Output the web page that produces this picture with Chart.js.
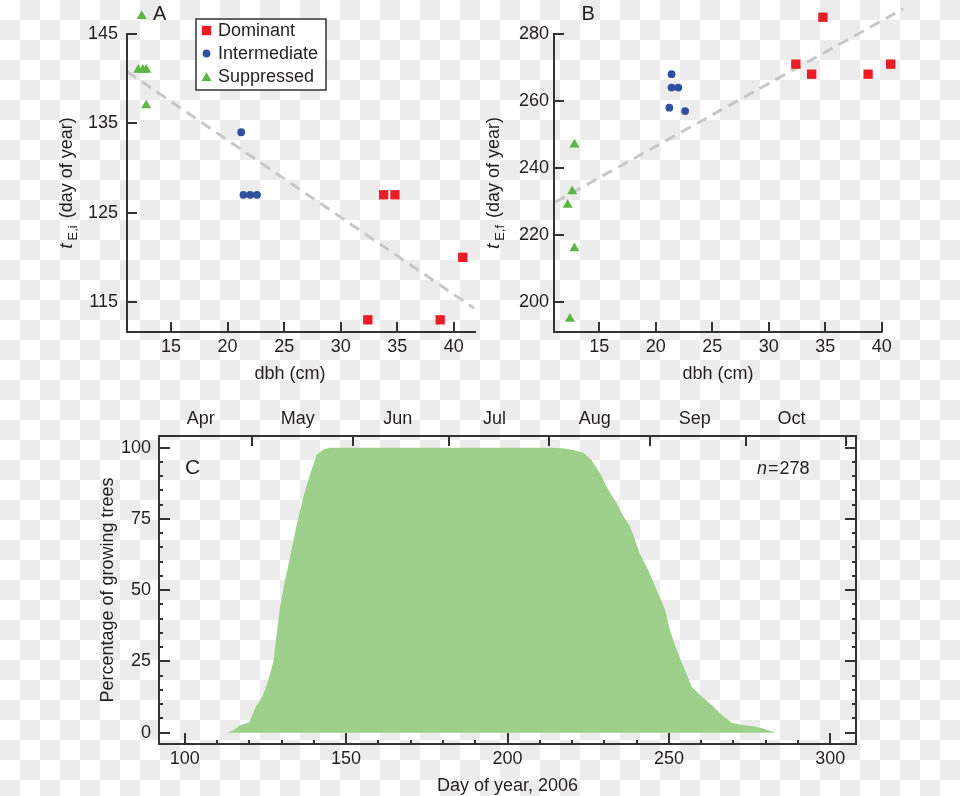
<!DOCTYPE html>
<html>
<head>
<meta charset="utf-8">
<script src="https://cdn.jsdelivr.net/npm/chart.js@4.4.1/dist/chart.umd.min.js"></script>
<style>
html, body { margin: 0; padding: 0; }
body {
    width: 960px; height: 796px; position: relative; overflow: hidden;
    background-color: #fff;
    background-image: conic-gradient(#ececec 25%, transparent 0 50%, #ececec 0 75%, transparent 0);
    background-size: 40px 40px;
}
canvas { position: absolute; }
</style>
</head>
<body>
<canvas id="panelA" width="480" height="390" style="left:0;top:0"></canvas>
<canvas id="panelB" width="480" height="390" style="left:480px;top:0"></canvas>
<canvas id="panelC" width="960" height="406" style="left:0;top:390px"></canvas>
<script>
// dbh (cm) of the trees, per crown class
const domX = [32.4, 33.8, 34.8, 38.8, 40.8];
const intX_A = [21.2, 21.4, 22.0, 22.6];
const supX_A = [12.4, 12.1, 12.5, 12.8, 12.8];
const intX_B = [21.4, 21.4, 22.0, 21.2, 22.6];
const supX_B = [12.8, 12.6, 12.2, 12.8, 12.4];

// panel A: start of growth (day of year)
const domA = [113, 127, 127, 113, 120];
const intA = [134, 127, 127, 127];
const supA = [147, 141, 141, 141, 137];
const fitAX = [11.1, 41.8];
const fitAY = [140.8, 114.3];

// panel B: end of growth (day of year)
const domB = [271, 268, 285, 268, 271];
const intB = [268, 264, 264, 258, 257];
const supB = [247, 233, 229, 216, 195];
const fitBX = [11.1, 41.9];
const fitBY = [229.8, 287.5];

// panel C: percentage of growing trees per day
const days = [113, 115, 117, 120, 122, 124, 125.5, 127.5, 128, 129.5, 131, 132.6, 134.7, 136.7, 138.8, 140.9, 143, 145,
    213, 217, 220.4, 223.5, 226, 228.7, 230.7, 233.8, 236, 238, 239.5, 241, 243.6, 246.2, 248.8, 250.3, 252.4,
    254.5, 257.1, 260.2, 263.3, 266.4, 269.5, 272.6, 276, 279.2, 283];
const growing = [0, 0.8, 2.5, 3.7, 9, 12.5, 17, 25, 30, 44, 53, 61.5, 73, 82.5, 90.5, 97.5, 99.4, 100,
    100, 99.8, 99.2, 98.2, 95.7, 91, 86.3, 80.5, 75.8, 72.3, 67.6, 62.9, 57.1, 50.1, 43.1, 36, 29,
    23.2, 16.1, 12.6, 9.7, 6.2, 3.5, 2.7, 2.3, 1.5, 0];

// tick labels
const dbhTicks = [15, 20, 25, 30, 35, 40];
const ticksA = [115, 125, 135, 145];
const ticksB = [200, 220, 240, 260, 280];
const dayTicks = [100, 150, 200, 250, 300];
const pctTicks = [0, 25, 50, 75, 100];
const months = ['Apr', 'May', 'Jun', 'Jul', 'Aug', 'Sep', 'Oct'];
const monthMid = [105, 135, 166, 196, 227, 258, 288];
const monthStart = [121, 152, 182, 213, 244, 274, 305];

const fam = "'Liberation Sans', Arial, sans-serif";
const ink = '#231f20';
const axisInk = '#333333';
const red = '#ed1c24';
const blue = '#2f509f';
const green = '#5cb646';

Chart.defaults.font.family = fam;
Chart.defaults.font.size = 18;
Chart.defaults.color = ink;

const pts = (xs, ys) => xs.map((x, i) => ({ x: x, y: ys[i] }));

function seg(ctx, x1, y1, x2, y2) {
    ctx.beginPath();
    ctx.moveTo(x1, y1);
    ctx.lineTo(x2, y2);
    ctx.stroke();
}

function rotatedTitle(ctx, x, y, main, sub, rest) {
    ctx.save();
    ctx.translate(x, y);
    ctx.rotate(-Math.PI / 2);
    ctx.fillStyle = ink;
    ctx.textBaseline = 'alphabetic';
    ctx.textAlign = 'left';
    const f1 = 'italic 19px ' + fam, f2 = '13px ' + fam, f3 = '18px ' + fam;
    ctx.font = f1; const w1 = main ? ctx.measureText(main).width + 3 : 0;
    ctx.font = f2; const w2 = sub ? ctx.measureText(sub).width + 2 : 0;
    ctx.font = f3; const w3 = ctx.measureText(rest).width;
    let cx = -(w1 + w2 + w3) / 2;
    if (main) { ctx.font = f1; ctx.fillText(main, cx, 0); cx += w1; }
    if (sub) { ctx.font = f2; ctx.fillText(sub, cx, 5); cx += w2; }
    ctx.font = f3; ctx.fillText(rest, cx, 0);
    ctx.restore();
}

function fixedTicks(values) {
    return scale => { scale.ticks = values.map(v => ({ value: v })); };
}

function scatterDeco(o) {
    return {
        id: 'deco' + o.letter,
        afterDraw(chart) {
            const ctx = chart.ctx, a = chart.chartArea, xs = chart.scales.x, ys = chart.scales.y;
            ctx.save();
            ctx.strokeStyle = axisInk;
            ctx.lineWidth = 2;
            const xEnd = o.xEnd != null ? xs.getPixelForValue(o.xEnd) : a.right;
            const yTop = ys.getPixelForValue(o.yTop);
            ctx.beginPath();
            ctx.moveTo(a.left, yTop - 1);
            ctx.lineTo(a.left, a.bottom);
            ctx.lineTo(xEnd + 1, a.bottom);
            ctx.stroke();
            xs.ticks.forEach(t => {
                const p = Math.round(xs.getPixelForValue(t.value));
                seg(ctx, p, a.bottom, p, a.bottom - 10);
            });
            ys.ticks.forEach(t => {
                const p = Math.round(ys.getPixelForValue(t.value));
                seg(ctx, a.left, p, a.left + 10, p);
            });

            ctx.fillStyle = ink;
            ctx.font = '20px ' + fam;
            ctx.textBaseline = 'alphabetic';
            ctx.textAlign = 'left';
            ctx.fillText(o.letter, o.letterX, 20);

            ctx.font = '18px ' + fam;
            ctx.textAlign = 'center';
            ctx.fillText('dbh (cm)', o.xTitleX, 379);
            rotatedTitle(ctx, o.yTitleX, 183, 't', o.sub, ' (day of year)');

            if (o.legend) {
                const L = o.legend;
                ctx.strokeStyle = axisInk;
                ctx.lineWidth = 1.5;
                ctx.fillStyle = '#fff';
                ctx.fillRect(L.x, L.y, L.w, L.h);
                ctx.strokeRect(L.x, L.y, L.w, L.h);
                chart.data.datasets.slice(0, 3).forEach((ds, i) => {
                    const cy = L.y + 11.5 + i * 23;
                    ctx.fillStyle = ds.backgroundColor;
                    Chart.helpers.drawPoint(ctx, {
                        pointStyle: ds.pointStyle, radius: ds.pointRadius, rotation: 0, borderWidth: 0
                    }, L.x + 10.5, cy + (ds.pointStyle === 'triangle' ? 1.5 : 0));
                    ctx.fillStyle = ink;
                    ctx.font = '18px ' + fam;
                    ctx.textAlign = 'left';
                    ctx.textBaseline = 'middle';
                    ctx.fillText(ds.label, L.x + 22, cy + 1);
                });
            }
            ctx.restore();
        }
    };
}

function scatterPanel(id, d) {
    return new Chart(document.getElementById(id), {
        type: 'scatter',
        data: {
            datasets: [
                { label: 'Dominant', data: pts(domX, d.dom), pointStyle: 'rect', pointRadius: 6.6,
                  pointHoverRadius: 9, backgroundColor: red, borderWidth: 0, clip: false },
                { label: 'Intermediate', data: pts(d.intX, d.int), pointStyle: 'circle', pointRadius: 3.9,
                  pointHoverRadius: 9, backgroundColor: blue, borderWidth: 0, clip: false },
                { label: 'Suppressed', data: pts(d.supX, d.sup), pointStyle: 'triangle', pointRadius: 5.8,
                  pointHoverRadius: 9, backgroundColor: green, borderWidth: 0, clip: false },
                { label: 'fit', data: pts(d.fitX, d.fitY), showLine: true, pointRadius: 0,
                  borderColor: '#c8c8c8', borderWidth: 3, borderDash: [11, 7], fill: false, clip: false }
            ]
        },
        options: {
            responsive: false,
            animation: false,
            events: [],
            layout: { autoPadding: false, padding: d.padding },
            plugins: { legend: { display: false }, tooltip: { enabled: false } },
            scales: {
                x: {
                    type: 'linear', min: d.xMin, max: d.xMax,
                    afterBuildTicks: fixedTicks(dbhTicks),
                    afterFit: s => { s.height = 30; },
                    grid: { display: false, drawTicks: false },
                    border: { display: false },
                    ticks: { padding: 4, font: { size: 18 }, color: ink }
                },
                y: {
                    type: 'linear', min: d.yMin, max: d.yMax,
                    afterBuildTicks: fixedTicks(d.yTicks),
                    afterFit: s => { s.width = 40; },
                    grid: { display: false, drawTicks: false },
                    border: { display: false },
                    ticks: { padding: d.yPad, font: { size: 18 }, color: ink }
                }
            }
        },
        plugins: [scatterDeco(d.deco)]
    });
}

// plot area starts at y=22, a little above the top tick, so the highest marks are kept
scatterPanel('panelA', {
    dom: domA, intX: intX_A, int: intA, supX: supX_A, sup: supA, fitX: fitAX, fitY: fitAY,
    xMin: 11.1, xMax: 41.88, yMin: 111.64, yMax: 146.343, yTicks: ticksA, yPad: 9,
    padding: { left: 87, right: 5, top: 22, bottom: 28 },
    deco: { letter: 'A', letterX: 153, xTitleX: 290, yTitleX: 72, sub: 'E,i', yTop: 145,
            legend: { x: 196, y: 19, w: 130, h: 71 } }
});

scatterPanel('panelB', {
    dom: domB, intX: intX_B, int: intB, supX: supX_B, sup: supB, fitX: fitBX, fitY: fitBY,
    xMin: 10.99, xMax: 41.89, yMin: 191.04, yMax: 283.58, yTicks: ticksB, yPad: 5,
    padding: { left: 34, right: 57, top: 22, bottom: 28 },
    deco: { letter: 'B', letterX: 101.5, xTitleX: 238, yTitleX: 19, sub: 'E,f', yTop: 280, xEnd: 40 }
});

const decoC = {
    id: 'decoC',
    afterDraw(chart) {
        const ctx = chart.ctx, a = chart.chartArea, xs = chart.scales.x, ys = chart.scales.y;
        ctx.save();
        ctx.strokeStyle = axisInk;
        ctx.lineWidth = 2;
        ctx.strokeRect(a.left, a.top, a.right - a.left, a.bottom - a.top);
        for (let v = 100; v <= 300; v += 10) {
            const p = Math.round(xs.getPixelForValue(v));
            seg(ctx, p, a.bottom, p, a.bottom - (v % 50 === 0 ? 11 : 4));
        }
        for (let v = 0; v <= 100; v += 5) {
            const p = Math.round(ys.getPixelForValue(v));
            const len = v % 25 === 0 ? 11 : 4;
            seg(ctx, a.left, p, a.left + len, p);
            seg(ctx, a.right, p, a.right - len, p);
        }
        monthStart.forEach(v => {
            const p = Math.round(xs.getPixelForValue(v));
            seg(ctx, p, a.top, p, a.top + 10);
        });

        ctx.fillStyle = ink;
        ctx.textBaseline = 'alphabetic';
        ctx.textAlign = 'left';
        ctx.font = '21px ' + fam;
        ctx.fillText('C', 185, 84);
        ctx.font = 'italic 18px ' + fam;
        ctx.fillText('n', 757, 84);
        const wn = ctx.measureText('n').width;
        ctx.font = '18px ' + fam;
        ctx.fillText('=', 757 + wn + 1, 84);
        const we = ctx.measureText('=').width;
        ctx.fillText('278', 757 + wn + we + 2, 84);

        ctx.textAlign = 'center';
        ctx.fillText('Day of year, 2006', (a.left + a.right) / 2, 401);
        rotatedTitle(ctx, 113, (a.top + a.bottom) / 2, '', '', 'Percentage of growing trees');
        ctx.restore();
    }
};

new Chart(document.getElementById('panelC'), {
    type: 'scatter',
    data: {
        datasets: [{
            label: 'Percentage of growing trees',
            data: pts(days, growing),
            showLine: true,
            pointRadius: 0,
            borderWidth: 0,
            borderColor: 'rgba(0,0,0,0)',
            backgroundColor: '#9dd18b',
            fill: 'origin',
            tension: 0
        }]
    },
    options: {
        responsive: false,
        animation: false,
        events: [],
        layout: { autoPadding: false, padding: { left: 109, right: 104, top: 16, bottom: 22 } },
        plugins: { legend: { display: false }, tooltip: { enabled: false } },
        scales: {
            x: {
                type: 'linear', position: 'bottom', min: 92.04, max: 307.96,
                afterBuildTicks: fixedTicks(dayTicks),
                afterFit: s => { s.height = 30; },
                grid: { display: false, drawTicks: false },
                border: { display: false },
                ticks: { padding: 4, font: { size: 18 }, color: ink }
            },
            month: {
                type: 'linear', position: 'top', min: 92.04, max: 307.96,
                afterBuildTicks: fixedTicks(monthMid),
                afterFit: s => { s.height = 30; },
                grid: { display: false, drawTicks: false },
                border: { display: false },
                ticks: { padding: 6, font: { size: 18 }, color: ink,
                         callback: (v, i) => months[i] }
            },
            y: {
                type: 'linear', min: -3.96, max: 104.1,
                afterBuildTicks: fixedTicks(pctTicks),
                afterFit: s => { s.width = 50; },
                grid: { display: false, drawTicks: false },
                border: { display: false },
                ticks: { padding: 8, font: { size: 18 }, color: ink }
            }
        }
    },
    plugins: [decoC]
});
</script>
</body>
</html>
